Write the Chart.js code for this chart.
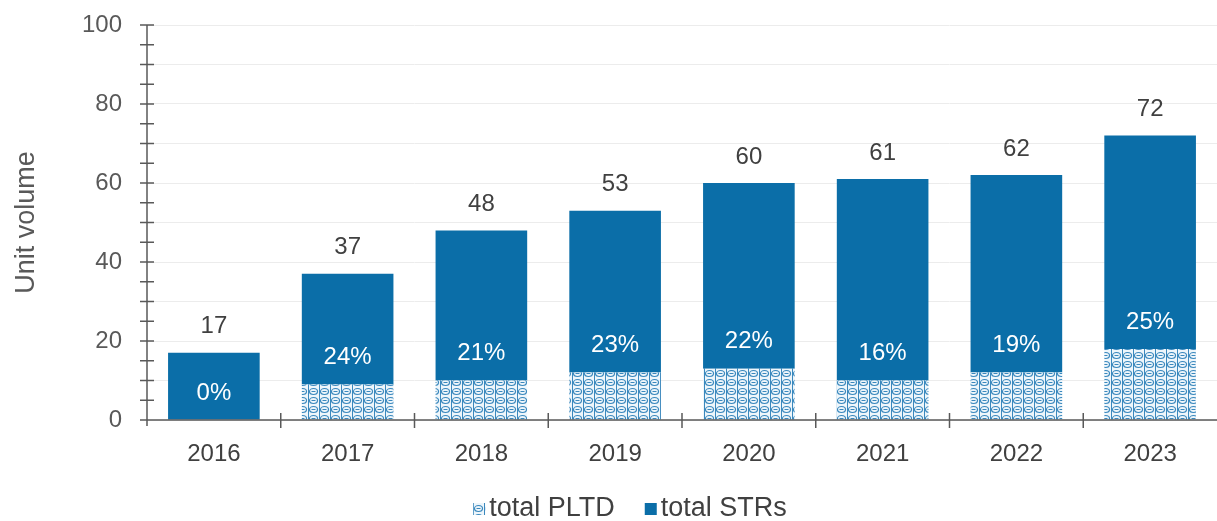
<!DOCTYPE html>
<html>
<head>
<meta charset="utf-8">
<script src="https://cdn.jsdelivr.net/npm/chart.js@4"></script>
<style>
  html, body { margin: 0; padding: 0; background: #fff; }
  #wrap { width: 1217px; height: 521px; }
</style>
</head>
<body>
<div id="wrap"><canvas id="chartCanvas"></canvas></div>
<script>
// data
const years = ['2016', '2017', '2018', '2019', '2020', '2021', '2022', '2023'];
const totals = [17, 37, 48, 53, 60, 61, 62, 72];
const pltd = [0, 9, 10, 12, 13, 10, 12, 18];
const pltdShare = [0, 24, 21, 23, 22, 16, 19, 25];
const yTicks = [0, 20, 40, 60, 80, 100];

const strs = totals.map((t, i) => t - pltd[i]);

const blue = '#0b6ea8';
const axisGray = '#595959';
const textGray = '#404040';
const fam = '"Liberation Sans", Arial, sans-serif';

// little tile for the PLTD fill
function makePattern() {
  const c = document.createElement('canvas');
  c.width = 11; c.height = 9;
  const g = c.getContext('2d');
  g.fillStyle = '#eef6fb';
  g.fillRect(0, 0, 11, 9);
  g.strokeStyle = '#3a88bd';
  g.lineWidth = 1.2;
  g.beginPath();
  g.ellipse(5.5, 4.5, 4, 3, 0, 0, Math.PI * 2);
  g.stroke();
  g.fillStyle = '#3a88bd';
  g.fillRect(3.5, 4, 4, 1);
  g.fillRect(0, 0, 1, 9);
  return g.createPattern(c, 'repeat');
}
const pltdFill = makePattern();

// axes lines, tick marks crossing the axis, value labels, legend
const axisMarks = {
  id: 'axisMarks',
  afterDatasetsDraw(chart) {
    const { ctx, chartArea: a, scales } = chart;
    ctx.save();
    ctx.strokeStyle = axisGray;
    ctx.lineWidth = 1.5;
    ctx.beginPath();
    ctx.moveTo(a.left, a.top);
    ctx.lineTo(a.left, a.bottom + 6);
    ctx.moveTo(a.left - 6, a.bottom);
    ctx.lineTo(a.right, a.bottom);
    for (let v = 0; v <= 100; v += 5) {
      const y = scales.y.getPixelForValue(v);
      ctx.moveTo(a.left - 7, y);
      ctx.lineTo(a.left + 7, y);
    }
    const step = (a.right - a.left) / years.length;
    for (let i = 1; i < years.length; i++) {
      const x = a.left + step * i;
      ctx.moveTo(x, a.bottom - 7);
      ctx.lineTo(x, a.bottom + 8);
    }
    ctx.stroke();

    const strMeta = chart.getDatasetMeta(1);
    const pMeta = chart.getDatasetMeta(0);
    ctx.textAlign = 'center';
    ctx.textBaseline = 'middle';
    ctx.font = '24px ' + fam;
    totals.forEach((t, i) => {
      const top = strMeta.data[i];
      ctx.fillStyle = textGray;
      ctx.fillText(String(t), top.x, top.y - 26);
      const p = pMeta.data[i];
      ctx.fillStyle = '#ffffff';
      ctx.fillText(pltdShare[i] + '%', p.x, scales.y.getPixelForValue(pltd[i]) - 27);
    });

    // legend
    ctx.font = '27px ' + fam;
    ctx.textAlign = 'left';
    const items = chart.data.datasets.map(d => ({ text: d.label, fill: d.backgroundColor }));
    const box = 12, gapBox = 4, gapItem = 30;
    let w = 0;
    items.forEach((it, k) => {
      it.w = ctx.measureText(it.text).width;
      w += box + gapBox + it.w + (k ? gapItem : 0);
    });
    let x = 630 - w / 2;
    const yMid = 509;
    items.forEach((it, k) => {
      if (k) x += gapItem;
      ctx.fillStyle = it.fill;
      ctx.fillRect(x, yMid - 6, box, box);
      x += box + gapBox;
      ctx.fillStyle = textGray;
      ctx.fillText(it.text, x, yMid);
      x += it.w;
    });
    ctx.restore();
  }
};

const ctx = document.getElementById('chartCanvas');
new Chart(ctx, {
  type: 'bar',
  data: {
    labels: years,
    datasets: [
      {
        label: 'total PLTD',
        data: pltd,
        backgroundColor: pltdFill,
        borderWidth: 0
      },
      {
        label: 'total STRs',
        data: strs,
        backgroundColor: blue
      }
    ]
  },
  options: {
    responsive: true,
    maintainAspectRatio: false,
    animation: false,
    layout: { padding: { top: 25, right: 0, bottom: 39, left: 0 } },
    datasets: { bar: { categoryPercentage: 1, barPercentage: 0.685 } },
    scales: {
      x: {
        stacked: true,
        grid: { display: false, drawTicks: false },
        border: { display: false },
        ticks: {
          color: textGray,
          padding: 20,
          font: { family: fam, size: 24 }
        },
        afterFit(s) { s.height = 62; s.paddingLeft = 0; s.paddingRight = 0; }
      },
      y: {
        stacked: true,
        min: 0,
        max: 100,
        grid: { color: '#ececec', lineWidth: 1, drawTicks: false },
        border: { display: false },
        ticks: {
          stepSize: 5,
          color: axisGray,
          padding: 25,
          font: { family: fam, size: 24 },
          callback: v => (yTicks.includes(v) ? v : '')
        },
        title: {
          display: true,
          text: 'Unit volume',
          color: axisGray,
          padding: { top: 10, bottom: 0 },
          font: { family: fam, size: 27 }
        },
        afterFit(s) { s.width = 147; s.paddingTop = 0; s.paddingBottom = 0; }
      }
    },
    plugins: {
      legend: { display: false },
      tooltip: { enabled: false }
    }
  },
  plugins: [axisMarks]
});
</script>
</body>
</html>
